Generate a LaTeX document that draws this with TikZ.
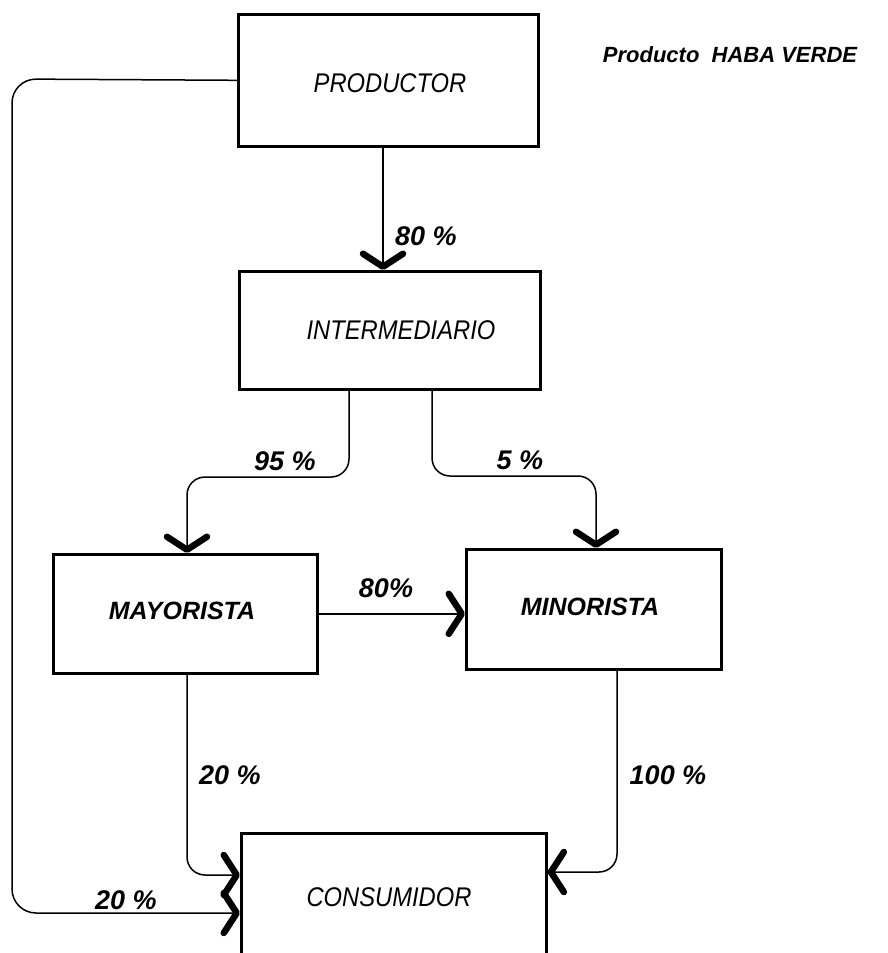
\documentclass[tikz,border=0pt]{standalone}
\usepackage{fontspec}
\setmainfont{Liberation Sans}
\newfontfamily\narrowfont[FakeStretch=0.88]{Liberation Sans}
\usetikzlibrary{arrows.meta}
\begin{document}
\begin{tikzpicture}[x=1pt,y=-1pt,
  box/.style={draw,line width=2.6pt,inner sep=0pt,anchor=north west},
  conn/.style={line width=1.5pt,rounded corners=18pt},
  arr/.style={-{Straight Barb[length=13pt,width=40pt,line width=6.5pt,round]}},
  plain/.style={font=\narrowfont\itshape\fontsize{27}{30}\selectfont,inner sep=0pt},
  heavy/.style={font=\bfseries\itshape\fontsize{25}{28}\selectfont,inner sep=0pt},
  pct/.style={font=\bfseries\itshape\fontsize{27}{30}\selectfont,inner sep=0pt}]
\useasboundingbox (0,0) rectangle (887,953);
% boxes
\node[box,minimum width=300pt,minimum height=132pt] (prod) at (237,13) {};
\node[box,minimum width=301pt,minimum height=118pt] (inter) at (238,270) {};
\node[box,minimum width=264pt,minimum height=119pt] (mayor) at (52,553) {};
\node[box,minimum width=255pt,minimum height=120pt] (minor) at (465,548) {};
\node[box,minimum width=305pt,minimum height=150pt] (cons) at (240,832) {};
% box texts
\node[plain] (prodtxt) at (390,83) {PRODUCTOR};
\node[plain] (intertxt) at (401,330) {INTERMEDIARIO};
\node[heavy] (mayortxt) at (182,611) {MAYORISTA};
\node[heavy] (minortxt) at (590,607) {MINORISTA};
\node[plain] (constxt) at (389,897) {CONSUMIDOR};
\node[font=\bfseries\itshape\fontsize{22}{26}\selectfont,inner sep=0pt] (title) at (730,55) {Producto\ \ HABA VERDE};
% bend coordinates
\coordinate (p1) at (383,0);
\coordinate (b1) at (349,477);
\coordinate (b2) at (187,477);
\coordinate (c1) at (432,476);
\coordinate (c2) at (596,476);
\coordinate (m1) at (187,875);
\coordinate (n1) at (617,872);
\coordinate (l1) at (12,79);
\coordinate (l2) at (12,913);
% connectors
\draw[conn,arr] (prod.south -| p1) -- (inter.north -| p1);
\draw[conn,arr] (inter.south -| b1) -- (b1) -- (b2) -- (mayor.north -| b2);
\draw[conn,arr] (inter.south -| c1) -- (c1) -- (c2) -- (minor.north -| c2);
\draw[conn,arr] (mayor.east) -- (mayor.east -| minor.west);
\draw[conn,arr] (mayor.south -| m1) -- (m1) -- (cons.west |- m1);
\draw[conn,arr] (minor.south -| n1) -- (n1) -- (cons.east |- n1);
\draw[conn,rounded corners=24pt,arr] (prod.west) -- (l1) -- (l2) -- (cons.west |- l2);
% labels
\node[pct] (q1) at (426,236) {80 \%};
\node[pct] (q2) at (285,461) {95 \%};
\node[pct] (q3) at (520,460) {5 \%};
\node[pct] (q4) at (386,588) {80\%};
\node[pct] (q5) at (230,775) {20 \%};
\node[pct] (q6) at (668,775) {100 \%};
\node[pct] (q7) at (126,900) {20 \%};
\end{tikzpicture}
\end{document}
